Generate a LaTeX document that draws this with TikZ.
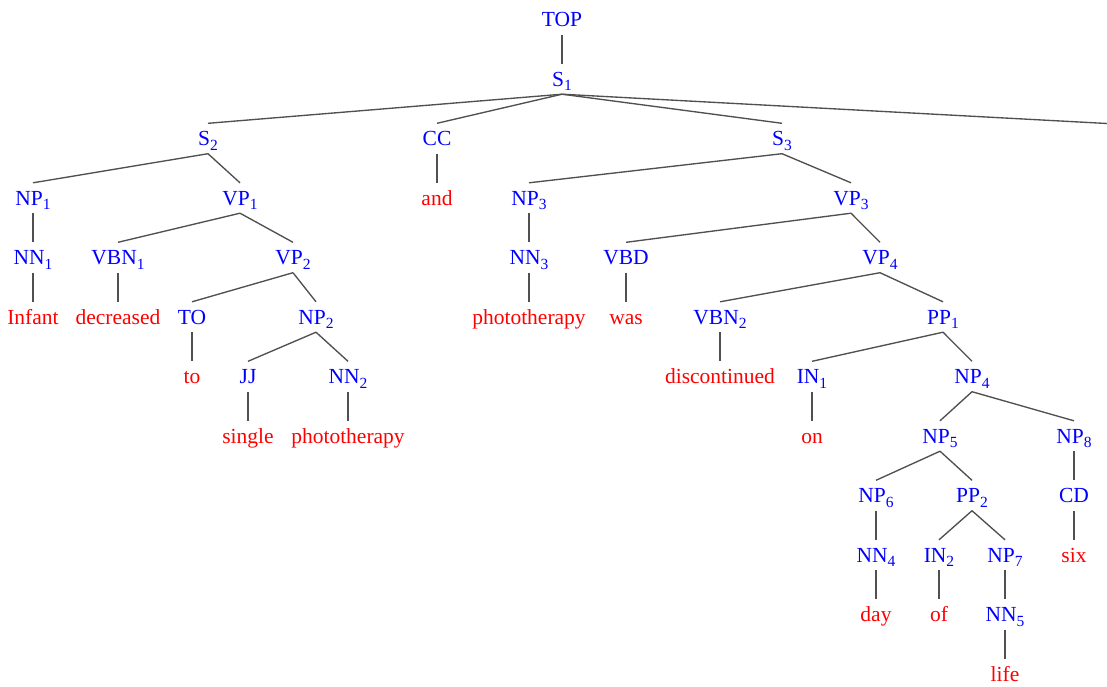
\documentclass[tikz,border=0pt]{standalone}
\usepackage{fontspec}
\setmainfont{Liberation Serif}
\definecolor{edgegray}{RGB}{80,80,80}
\newcommand\sbs[1]{\raisebox{-4.5pt}{\fontsize{15.5}{15.5}\selectfont #1}}
\tikzset{
  cat/.style={text=blue, font=\fontsize{21.5}{24}\selectfont, text height=14pt, text depth=0pt, inner xsep=0pt, inner ysep=8pt},
  word/.style={cat, text=red},
  edge/.style={draw=edgegray, line width=1.35pt}
}
\begin{document}
\begin{tikzpicture}[x=1pt,y=-1pt]
\useasboundingbox (0,0) rectangle (1107,686);
% row 0-2
\node[cat] (TOP) at (562,19.5) {TOP};
\node[cat] (S1) at (562,79) {S\sbs{1}};
\node[cat] (S2) at (208,138.5) {S\sbs{2}};
\node[cat] (CC) at (437,138.5) {CC};
\node[cat] (S3) at (782,138.5) {S\sbs{3}};
\coordinate (off) at (1107,123.5);
% row 3
\node[cat] (NP1) at (33,198) {NP\sbs{1}};
\node[cat] (VP1) at (240,198) {VP\sbs{1}};
\node[word] (and) at (437,198) {and};
\node[cat] (NP3) at (529,198) {NP\sbs{3}};
\node[cat] (VP3) at (851,198) {VP\sbs{3}};
% row 4
\node[cat] (NN1) at (33,257.5) {NN\sbs{1}};
\node[cat] (VBN1) at (118,257.5) {VBN\sbs{1}};
\node[cat] (VP2) at (293,257.5) {VP\sbs{2}};
\node[cat] (NN3) at (529,257.5) {NN\sbs{3}};
\node[cat] (VBD) at (626,257.5) {VBD};
\node[cat] (VP4) at (880,257.5) {VP\sbs{4}};
% row 5
\node[word] (Infant) at (33,317) {Infant};
\node[word] (decreased) at (118,317) {decreased};
\node[cat] (TO) at (192,317) {TO};
\node[cat] (NP2) at (316,317) {NP\sbs{2}};
\node[word] (photoA) at (529,317) {phototherapy};
\node[word] (was) at (626,317) {was};
\node[cat] (VBN2) at (720,317) {VBN\sbs{2}};
\node[cat] (PP1) at (943,317) {PP\sbs{1}};
% row 6
\node[word] (to) at (192,376.5) {to};
\node[cat] (JJ) at (248,376.5) {JJ};
\node[cat] (NN2) at (348,376.5) {NN\sbs{2}};
\node[word] (disc) at (720,376.5) {discontinued};
\node[cat] (IN1) at (812,376.5) {IN\sbs{1}};
\node[cat] (NP4) at (972,376.5) {NP\sbs{4}};
% row 7
\node[word] (single) at (248,436) {single};
\node[word] (photoB) at (348,436) {phototherapy};
\node[word] (on) at (812,436) {on};
\node[cat] (NP5) at (940,436) {NP\sbs{5}};
\node[cat] (NP8) at (1074,436) {NP\sbs{8}};
% row 8
\node[cat] (NP6) at (876,495.5) {NP\sbs{6}};
\node[cat] (PP2) at (972,495.5) {PP\sbs{2}};
\node[cat] (CD) at (1074,495.5) {CD};
% row 9
\node[cat] (NN4) at (876,555) {NN\sbs{4}};
\node[cat] (IN2) at (939,555) {IN\sbs{2}};
\node[cat] (NP7) at (1005,555) {NP\sbs{7}};
\node[word] (six) at (1074,555) {six};
% row 10
\node[word] (day) at (876,614.5) {day};
\node[word] (of) at (939,614.5) {of};
\node[cat] (NN5) at (1005,614.5) {NN\sbs{5}};
% row 11
\node[word] (life) at (1005,674) {life};
% edges
\foreach \p/\c in {TOP/S1, S1/S2, S1/CC, S1/S3, S2/NP1, S2/VP1, CC/and, S3/NP3, S3/VP3,
  NP1/NN1, NN1/Infant, VP1/VBN1, VP1/VP2, VBN1/decreased, VP2/TO, VP2/NP2, TO/to,
  NP2/JJ, NP2/NN2, JJ/single, NN2/photoB, NP3/NN3, NN3/photoA, VP3/VBD, VP3/VP4,
  VBD/was, VP4/VBN2, VP4/PP1, VBN2/disc, PP1/IN1, PP1/NP4, IN1/on, NP4/NP5, NP4/NP8,
  NP5/NP6, NP5/PP2, NP8/CD, CD/six, NP6/NN4, NN4/day, PP2/IN2, PP2/NP7, IN2/of,
  NP7/NN5, NN5/life}
  \draw[edge] (\p.south) -- (\c.north);
\draw[edge] (S1.south) -- (off);
\end{tikzpicture}
\end{document}
